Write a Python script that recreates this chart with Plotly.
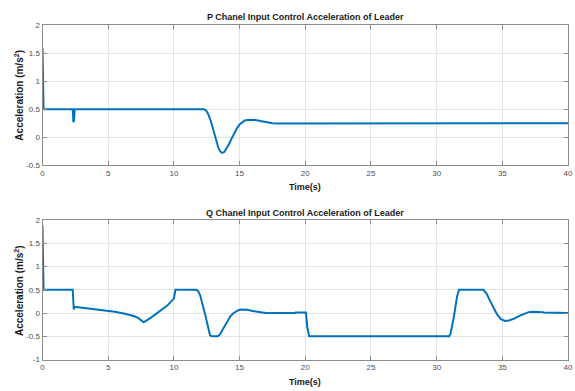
import plotly.graph_objects as go

# P channel control acceleration (time in s, acceleration in m/s^2)
p_time = [0, 0.02, 0.05, 0.08, 2.3, 2.35, 2.4, 2.45, 2.5,
          12.3, 12.45, 12.6, 12.8, 13.0, 13.2, 13.4, 13.55, 13.7, 13.85, 14.0,
          14.2, 14.4, 14.6, 14.8, 15.0, 15.2, 15.4, 15.6, 15.9, 16.2, 16.6, 17.0,
          17.5, 18.0, 18.45, 18.5, 40]
p_accel = [1.6, 0.8, 0.55, 0.5, 0.5, 0.27, 0.3, 0.5, 0.5,
           0.5, 0.48, 0.42, 0.3, 0.12, -0.06, -0.2, -0.26, -0.28, -0.26, -0.21,
           -0.12, -0.02, 0.08, 0.16, 0.23, 0.27, 0.3, 0.31, 0.315, 0.31, 0.29, 0.27,
           0.25, 0.245, 0.245, 0.25, 0.25]

# Q channel control acceleration
q_time = [0, 0.02, 0.05, 0.08, 2.3, 2.38, 2.45, 2.55, 3.5, 4.5, 5.5, 6.2, 6.7,
          7.0, 7.3, 7.5, 7.7, 8.2, 9.0, 9.5, 10.0, 10.07, 10.12,
          11.7, 11.85, 12.0, 12.2, 12.4, 12.6, 12.75, 12.85, 13.35, 13.5, 13.7,
          13.9, 14.1, 14.3, 14.5, 14.7, 14.9, 15.1, 15.35, 15.6, 15.9, 16.3, 16.7,
          17.0, 19.2, 19.25, 20.05, 20.15, 20.3,
          30.95, 31.05, 31.3, 31.55, 31.7, 33.56, 33.8, 34.0, 34.3, 34.6, 34.9,
          35.2, 35.5, 35.9, 36.3, 36.7, 37.0, 37.3, 37.7, 38.1, 38.15, 39.0, 40]
q_accel = [1.88, 0.85, 0.55, 0.5, 0.5, 0.08, 0.13, 0.13, 0.1, 0.07, 0.03, -0.01,
           -0.04, -0.07, -0.11, -0.15, -0.2, -0.11, 0.05, 0.16, 0.31, 0.45, 0.5,
           0.5, 0.47, 0.38, 0.18, -0.05, -0.3, -0.47, -0.5, -0.5, -0.46, -0.36,
           -0.25, -0.15, -0.07, -0.01, 0.03, 0.06, 0.075, 0.08, 0.07, 0.05, 0.03,
           0.01, 0.0, 0.0, 0.01, 0.01, -0.3, -0.5,
           -0.5, -0.45, -0.1, 0.35, 0.5, 0.5, 0.42, 0.3, 0.12, -0.03, -0.13,
           -0.17, -0.16, -0.12, -0.06, -0.01, 0.02, 0.03, 0.03, 0.02, 0.01, 0.0, 0.0]

x_ticks = [0, 5, 10, 15, 20, 25, 30, 35, 40]
p_yticks = [-0.5, 0, 0.5, 1, 1.5, 2]
q_yticks = [-1, -0.5, 0, 0.5, 1, 1.5, 2]

blue = "#0072BD"
tick_font = dict(family="Liberation Sans Narrow, Liberation Sans, Arial", size=8, color="#4d4d4d")
bold_font = dict(family="Liberation Sans Narrow, Liberation Sans, Arial", size=9, color="#1a1a1a")

fig = go.Figure()
fig.add_trace(go.Scatter(x=p_time, y=p_accel, mode="lines", xaxis="x", yaxis="y",
                         line=dict(color=blue, width=2), showlegend=False))
fig.add_trace(go.Scatter(x=q_time, y=q_accel, mode="lines", xaxis="x2", yaxis="y2",
                         line=dict(color=blue, width=2), showlegend=False))

axis_common = dict(showgrid=True, gridcolor="#e3e3e3", gridwidth=1, zeroline=False,
                   showline=True, linecolor="#8c8c8c", linewidth=1, mirror="ticks",
                   ticks="inside", ticklen=4, tickcolor="#8c8c8c", tickfont=tick_font,
                   ticklabeloverflow="allow")

x_dom = [41 / 575, 573 / 575]
fig.update_layout(
    width=575, height=391,
    margin=dict(l=0, r=0, t=0, b=0),
    paper_bgcolor="white", plot_bgcolor="white",
    xaxis=dict(domain=x_dom, anchor="y", range=[0, 40], tickvals=x_ticks,
               ticktext=[str(v) for v in x_ticks], **axis_common),
    yaxis=dict(domain=[(391 - 165) / 391, (391 - 22) / 391], anchor="x", range=[-0.5, 2],
               tickvals=p_yticks, ticktext=["-0.5", "0", "0.5", "1", "1.5", "2"], **axis_common),
    xaxis2=dict(domain=x_dom, anchor="y2", range=[0, 40], tickvals=x_ticks,
                ticktext=[str(v) for v in x_ticks], **axis_common),
    yaxis2=dict(domain=[(391 - 364) / 391, (391 - 221) / 391], anchor="x2", range=[-1, 2],
                tickvals=q_yticks, ticktext=["-1", "-0.5", "0", "0.5", "1", "1.5", "2"], **axis_common),
)

annotations = [
    dict(text="<b>P Chanel Input Control Acceleration of Leader</b>", x=307, y=13),
    dict(text="<b>Q Chanel Input Control Acceleration of Leader</b>", x=307, y=214),
    dict(text="<b>Time(s)</b>", x=307, y=187),
    dict(text="<b>Time(s)</b>", x=307, y=387),
]
for a in annotations:
    fig.add_annotation(text=a["text"], x=a["x"] / 575, y=1 - a["y"] / 391,
                       xref="paper", yref="paper", showarrow=False,
                       xanchor="center", yanchor="middle", font=bold_font)

for yc in [93, 293]:
    fig.add_annotation(text="<b>Acceleration (m/s<sup>2</sup>)</b>", x=17 / 575, y=1 - yc / 391,
                       xref="paper", yref="paper", showarrow=False, textangle=-90,
                       xanchor="center", yanchor="middle",
                       font=dict(family="Liberation Sans, Arial", size=10, color="#1a1a1a"))

fig.write_html("out.html")
